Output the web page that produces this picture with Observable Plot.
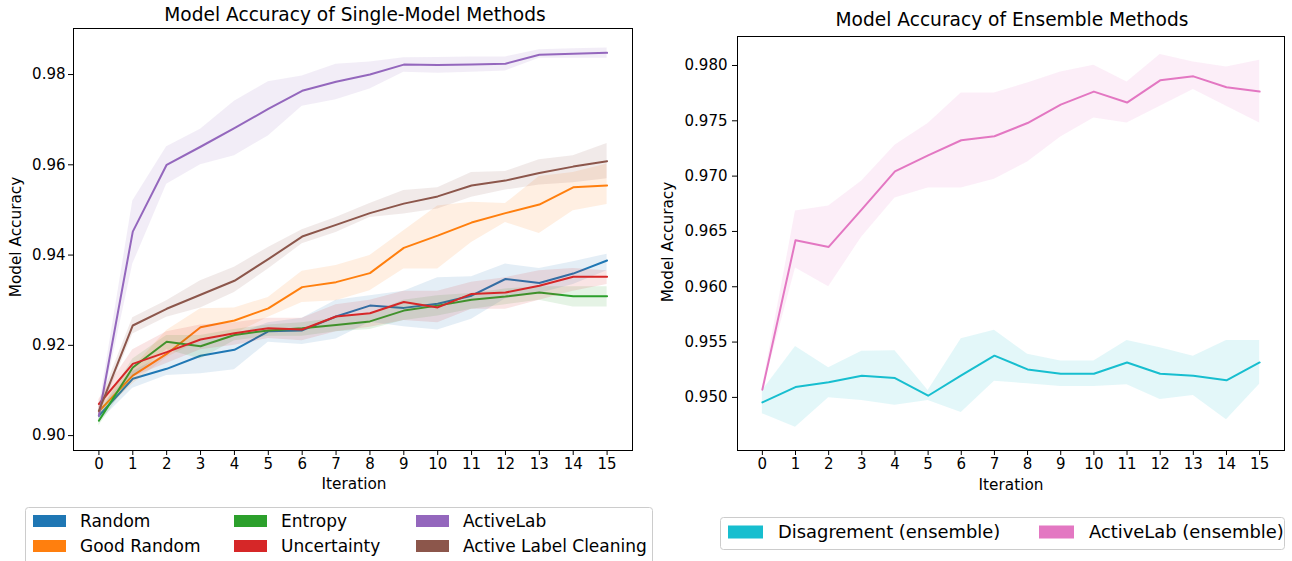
<!DOCTYPE html>
<html><head><meta charset="utf-8">
<script src="https://cdn.jsdelivr.net/npm/d3@7"></script>
<script src="https://cdn.jsdelivr.net/npm/@observablehq/plot@0.6"></script>
<style>
body{margin:0;background:#fff;width:1292px;height:561px;overflow:hidden;position:relative;font-family:"DejaVu Sans",sans-serif;}
.abs{position:absolute;}
#overlay{position:absolute;left:0;top:0;pointer-events:none;}
</style></head><body>
<div id="left" class="abs" style="left:0;top:0"></div>
<div id="right" class="abs" style="left:650px;top:0"></div>
<svg id="overlay" width="1292" height="561"></svg>
<script>
const iterations = [0,1,2,3,4,5,6,7,8,9,10,11,12,13,14,15];

// Left chart: single-model methods
const leftNames = ["Random","Good Random","Entropy","Uncertainty","ActiveLab","Active Label Cleaning"];
const randomMean = [0.9044,0.9126,0.9148,0.9177,0.9190,0.9231,0.9233,0.9264,0.9288,0.9283,0.9292,0.9310,0.9347,0.9338,0.9359,0.9388];
const randomLo   = [0.9030,0.9105,0.9133,0.9137,0.9146,0.9207,0.9202,0.9214,0.9251,0.9241,0.9234,0.9258,0.9303,0.9315,0.9335,0.9365];
const randomHi   = [0.9058,0.9142,0.9180,0.9210,0.9222,0.9250,0.9260,0.9300,0.9310,0.9320,0.9350,0.9352,0.9380,0.9370,0.9385,0.9402];
const goodRandomMean = [0.9054,0.9133,0.9181,0.9240,0.9255,0.9282,0.9329,0.9340,0.9360,0.9416,0.9443,0.9472,0.9493,0.9512,0.9550,0.9554];
const goodRandomLo   = [0.9040,0.9115,0.9173,0.9210,0.9225,0.9262,0.9295,0.9299,0.9321,0.9369,0.9369,0.9428,0.9472,0.9448,0.9498,0.9512];
const goodRandomHi   = [0.9068,0.9150,0.9233,0.9281,0.9283,0.9306,0.9364,0.9377,0.9399,0.9454,0.9509,0.9517,0.9514,0.9574,0.9583,0.9602];
const entropyMean = [0.9033,0.9151,0.9208,0.9198,0.9223,0.9233,0.9238,0.9245,0.9253,0.9277,0.9288,0.9301,0.9308,0.9317,0.9309,0.9309];
const entropyLo   = [0.9022,0.9130,0.9190,0.9170,0.9210,0.9220,0.9220,0.9230,0.9235,0.9255,0.9265,0.9280,0.9290,0.9300,0.9285,0.9285];
const entropyHi   = [0.9048,0.9170,0.9222,0.9222,0.9235,0.9245,0.9250,0.9260,0.9270,0.9300,0.9310,0.9315,0.9325,0.9330,0.9330,0.9330];
const uncertaintyMean = [0.9070,0.9159,0.9185,0.9213,0.9227,0.9238,0.9235,0.9264,0.9271,0.9296,0.9284,0.9314,0.9317,0.9332,0.9352,0.9352];
const uncertaintyLo   = [0.9060,0.9130,0.9160,0.9190,0.9200,0.9215,0.9210,0.9230,0.9240,0.9255,0.9250,0.9280,0.9280,0.9300,0.9320,0.9335];
const uncertaintyHi   = [0.9080,0.9190,0.9230,0.9245,0.9250,0.9260,0.9260,0.9290,0.9300,0.9320,0.9320,0.9340,0.9350,0.9365,0.9370,0.9365];
const activeLabMean = [0.9044,0.9452,0.9600,0.9640,0.9681,0.9724,0.9764,0.9784,0.9800,0.9822,0.9821,0.9822,0.9824,0.9844,0.9846,0.9848];
const activeLabLo   = [0.9030,0.9380,0.9557,0.9600,0.9620,0.9664,0.9730,0.9744,0.9768,0.9805,0.9803,0.9805,0.9808,0.9836,0.9836,0.9836];
const activeLabHi   = [0.9060,0.9520,0.9640,0.9679,0.9741,0.9784,0.9797,0.9823,0.9828,0.9837,0.9838,0.9839,0.9839,0.9855,0.9857,0.9859];
const alcMean = [0.9055,0.9244,0.9281,0.9312,0.9343,0.9391,0.9441,0.9467,0.9493,0.9514,0.9530,0.9554,0.9565,0.9582,0.9596,0.9608];
const alcLo   = [0.9040,0.9225,0.9262,0.9283,0.9317,0.9369,0.9425,0.9450,0.9483,0.9491,0.9502,0.9528,0.9544,0.9555,0.9560,0.9569];
const alcHi   = [0.9070,0.9261,0.9299,0.9343,0.9373,0.9417,0.9456,0.9483,0.9514,0.9543,0.9549,0.9583,0.9585,0.9611,0.9620,0.9647];
const leftYTicks = [0.90,0.92,0.94,0.96,0.98];

// Right chart: ensemble methods
const rightNames = ["Disagrement (ensemble)","ActiveLab (ensemble)"];
const disagreementMean = [0.94955,0.95093,0.95136,0.95196,0.95175,0.95015,0.95199,0.95377,0.95253,0.95214,0.95214,0.95316,0.95214,0.95196,0.95154,0.95316];
const disagreementLo   = [0.94852,0.94731,0.94997,0.94973,0.94928,0.94973,0.94864,0.95145,0.95124,0.95099,0.95099,0.95115,0.94982,0.95018,0.94798,0.95118];
const disagreementHi   = [0.95060,0.95461,0.95268,0.95416,0.95422,0.95063,0.95530,0.95606,0.95389,0.95328,0.95328,0.95515,0.95449,0.95373,0.95515,0.95515];
const activeLabEnsMean = [0.9507,0.9642,0.9636,0.9670,0.97043,0.97188,0.97324,0.97360,0.97480,0.97646,0.97764,0.97665,0.97866,0.97902,0.97803,0.97764];
const activeLabEnsLo   = [0.9505,0.9617,0.9600,0.9645,0.96802,0.96893,0.96893,0.96971,0.97128,0.97354,0.97526,0.97480,0.97631,0.97782,0.97631,0.97480];
const activeLabEnsHi   = [0.9509,0.96684,0.96730,0.96956,0.97278,0.97475,0.97752,0.97752,0.97842,0.97941,0.98002,0.97851,0.98099,0.98032,0.97987,0.98047];
const rightYTicks = [0.950,0.955,0.960,0.965,0.970,0.975,0.980];

const leftColors = ["#1f77b4","#ff7f0e","#2ca02c","#d62728","#9467bd","#8c564b"];
const rightColors = ["#17becf","#e377c2"];

function buildRows(names, triples) {
  const rows = [];
  names.forEach((name, k) => {
    const [m, lo, hi] = triples[k];
    iterations.forEach((it, i) => rows.push({series: name, x: it, mean: m[i], lo: lo[i], hi: hi[i]}));
  });
  return rows;
}
const leftRows = buildRows(leftNames, [
  [randomMean, randomLo, randomHi],
  [goodRandomMean, goodRandomLo, goodRandomHi],
  [entropyMean, entropyLo, entropyHi],
  [uncertaintyMean, uncertaintyLo, uncertaintyHi],
  [activeLabMean, activeLabLo, activeLabHi],
  [alcMean, alcLo, alcHi]
]);
const rightRows = buildRows(rightNames, [
  [disagreementMean, disagreementLo, disagreementHi],
  [activeLabEnsMean, activeLabEnsLo, activeLabEnsHi]
]);

const baseStyle = {fontFamily: "'DejaVu Sans', sans-serif", fontSize: "15px", color: "black", background: "transparent", overflow: "visible"};

function chart(rows, names, colors, opts) {
  const marks = [];
  names.forEach((name, k) => {
    const sub = rows.filter(r => r.series === name);
    marks.push(Plot.areaY(sub, {x: "x", y1: "lo", y2: "hi", fill: colors[k], fillOpacity: 0.12}));
    marks.push(Plot.lineY(sub, {x: "x", y: "mean", stroke: colors[k], strokeWidth: 2}));
  });
  marks.push(Plot.axisX({ticks: iterations, tickSize: 5, tickPadding: 2.5, tickFormat: d => String(d), label: null}));
  marks.push(Plot.axisY({ticks: opts.yTicks, tickSize: 5, tickPadding: opts.ypad, tickFormat: d3.format(opts.fmt), label: null}));
  marks.push(Plot.frame({stroke: "black", strokeWidth: 1}));
  return Plot.plot({
    width: opts.width, height: 500,
    marginLeft: opts.ml, marginRight: opts.mr, marginTop: opts.mt, marginBottom: 50,
    x: {domain: [-0.75, 15.75]},
    y: {domain: opts.yDomain},
    style: baseStyle,
    marks
  });
}

document.getElementById("left").appendChild(chart(leftRows, leftNames, leftColors,
  {width: 650, ml: 73, mr: 18, mt: 28, yDomain: [0.8967, 0.9902], yTicks: leftYTicks, fmt: ".2f", ypad: 3}));
document.getElementById("right").appendChild(chart(rightRows, rightNames, rightColors,
  {width: 642, ml: 87, mr: 8, mt: 36, yDomain: [0.9452, 0.98262], yTicks: rightYTicks, fmt: ".3f", ypad: 5}));

// Overlay texts and legends
const svg = d3.select("#overlay").style("font-family", "'DejaVu Sans', sans-serif");
function txt(x, y, s, size, anchor, rot) {
  const t = svg.append("text").attr("x", x).attr("y", y).attr("font-size", size).attr("text-anchor", anchor || "middle").attr("fill", "black").text(s);
  if (rot) t.attr("transform", `rotate(${rot},${x},${y})`);
}
txt(355, 20.5, "Model Accuracy of Single-Model Methods", "18.6px");
txt(1012, 25.8, "Model Accuracy of Ensemble Methods", "18.6px");
txt(354, 489, "Iteration", "15.3px");
txt(1011, 489.5, "Iteration", "15.3px");
txt(20.5, 237, "Model Accuracy", "15.3px", "middle", -90);
txt(673, 242, "Model Accuracy", "15.3px", "middle", -90);

// Left legend
svg.append("rect").attr("x", 25.5).attr("y", 507.5).attr("width", 627).attr("height", 70).attr("rx", 3)
  .attr("fill", "white").attr("fill-opacity", 0.8).attr("stroke", "#cccccc");
const colX = [33, 234, 416];
const rowY = [515, 540];
leftNames.forEach((name, k) => {
  const c = Math.floor(k / 2), r = k % 2;
  svg.append("rect").attr("x", colX[c]).attr("y", rowY[r]).attr("width", 33).attr("height", 12).attr("fill", leftColors[k]);
  txt(colX[c] + 47, rowY[r] + 12.3, name, "17px", "start");
});
// Right legend
svg.append("rect").attr("x", 720.5).attr("y", 517.5).attr("width", 564).attr("height", 32).attr("rx", 3)
  .attr("fill", "white").attr("fill-opacity", 0.8).attr("stroke", "#cccccc");
const rColX = [728, 1039];
rightNames.forEach((name, k) => {
  svg.append("rect").attr("x", rColX[k]).attr("y", 525.5).attr("width", 35).attr("height", 13).attr("fill", rightColors[k]);
  txt(rColX[k] + 50, 538.3, name, "17.9px", "start");
});
</script>
</body></html>
